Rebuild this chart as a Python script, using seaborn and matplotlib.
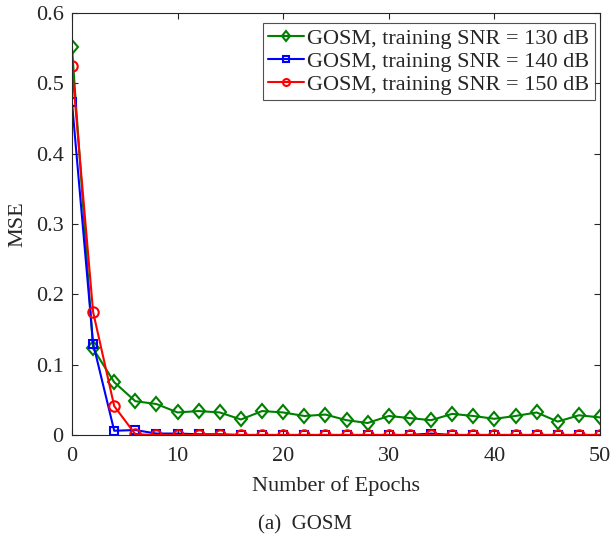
import numpy as np
import pandas as pd
import matplotlib.pyplot as plt
import seaborn as sns
from matplotlib.markers import MarkerStyle
from matplotlib.transforms import Affine2D

# Data
epochs = list(range(0, 52, 2))
mse_130 = [0.551, 0.123, 0.075, 0.048, 0.044, 0.032, 0.034, 0.032, 0.022, 0.034,
           0.032, 0.027, 0.029, 0.021, 0.017, 0.027, 0.024, 0.021, 0.030, 0.027,
           0.023, 0.027, 0.032, 0.019, 0.028, 0.025]
mse_140 = [0.473, 0.130, 0.006, 0.007, 0.002, 0.002, 0.001, 0.001, 0.0, 0.0,
           0.0, 0.0, 0.0, 0.0, 0.0, 0.0, 0.0, 0.002, 0.0, 0.0,
           0.0, 0.0, 0.0, 0.0, 0.0, 0.0]
mse_150 = [0.524, 0.175, 0.041, 0.001, 0.0, 0.0, 0.0, 0.0, 0.0, 0.0,
           0.0, 0.0, 0.0, 0.0, 0.0, 0.0, 0.0, 0.0, 0.0, 0.0,
           0.0, 0.0, 0.0, 0.0, 0.0, 0.0]
labels = ["GOSM, training SNR = 130 dB",
          "GOSM, training SNR = 140 dB",
          "GOSM, training SNR = 150 dB"]

sns.set_style("white")
plt.rcParams['font.family'] = ['Liberation Serif', 'DejaVu Serif']

fig = plt.figure(figsize=(6.12, 5.41), dpi=100)
ax = fig.add_axes([0.1176, 0.196, 0.8628, 0.780])

# matlab-like diamond (a bit narrower than tall)
diamond = MarkerStyle("D", transform=Affine2D().scale(0.82, 1.0))
styles = [("green", diamond, 7.2), ("blue", "s", 6), ("red", "o", 7.5)]
for vals, lab, (col, mk, ms) in zip([mse_130, mse_140, mse_150], labels, styles):
    df = pd.DataFrame({"Epoch": epochs, "MSE": vals})
    sns.lineplot(data=df, x="Epoch", y="MSE", ax=ax, color=col, marker=mk,
                 markersize=ms, markerfacecolor="none",
                 markeredgecolor=col, markeredgewidth=1.5, linewidth=1.5,
                 label=lab)

ax.set_xlim(0, 50)
ax.set_ylim(0, 0.6)
ax.set_xticks(range(0, 51, 10))
ax.set_yticks(np.arange(0, 0.61, 0.1))
ax.set_yticklabels(["0", "0.1", "0.2", "0.3", "0.4", "0.5", "0.6"])
ax.tick_params(direction="in", length=4.5, labelsize=16, colors="#262626",
               top=True, right=True, bottom=True, left=True, width=0.8)
ax.tick_params(axis="x", pad=9)
ax.tick_params(axis="y", pad=6)
for s in ax.spines.values():
    s.set_color("#262626")
    s.set_linewidth(0.8)
ax.set_xlabel("Number of Epochs", fontsize=16, color="#262626", va="center")
ax.set_ylabel("MSE", fontsize=16, color="#262626", va="center")
ax.xaxis.set_label_coords(0.5, -0.121)
ax.yaxis.set_label_coords(-0.102, 0.5)

leg = ax.legend(loc="upper right", bbox_to_anchor=(0.9905, 0.976),
                fontsize=16, frameon=True, fancybox=False,
                edgecolor="#262626", borderpad=0.25, handlelength=1.6,
                handletextpad=0.15, labelspacing=0.1, borderaxespad=0)
leg.get_frame().set_linewidth(0.8)
for h in leg.legend_handles:
    h.set_markersize(5)

fig.text(0.498, 0.0296, "(a)  GOSM", ha="center", va="center", fontsize=15)

fig.savefig("out.png", dpi=100)
